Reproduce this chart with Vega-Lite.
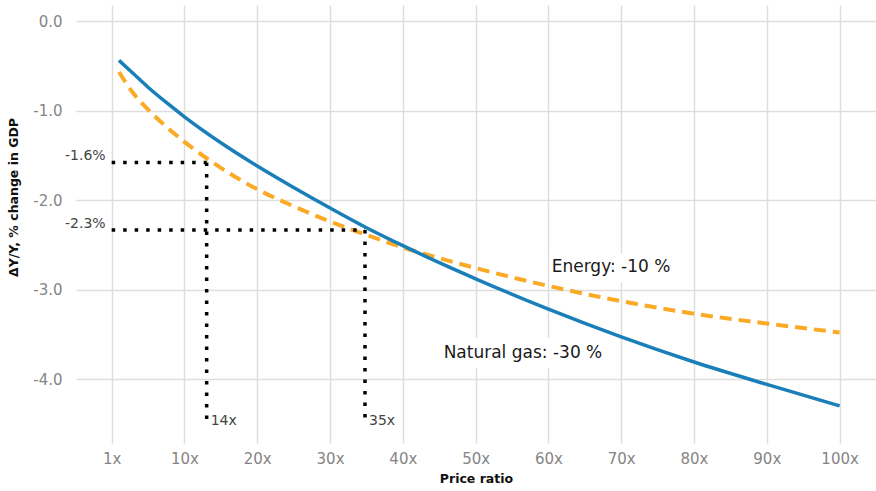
{
  "$schema": "https://vega.github.io/schema/vega-lite/v6.json",
  "width": 800,
  "height": 438,
  "autosize": "none",
  "padding": {"left": 76, "top": 5, "right": 0, "bottom": 48},
  "background": "white",
  "config": {
    "font": "DejaVu Sans",
    "view": {"stroke": null},
    "axis": {"domain": false, "ticks": false, "gridColor": "#dddddd", "gridWidth": 1.5, "labelColor": "#858585", "labelFontSize": 15, "labelFont": "DejaVu Sans", "titleFont": "DejaVu Sans", "titleColor": "#111111", "titleFontSize": 12.5, "titleFontWeight": "bold"}
  },
  "datasets": {
    "curves": [
      {"series": "Natural gas", "x": 1, "y": -0.44},
      {"series": "Natural gas", "x": 3, "y": -0.59},
      {"series": "Natural gas", "x": 5, "y": -0.74},
      {"series": "Natural gas", "x": 7.5, "y": -0.91},
      {"series": "Natural gas", "x": 10, "y": -1.07},
      {"series": "Natural gas", "x": 15, "y": -1.36},
      {"series": "Natural gas", "x": 20, "y": -1.62},
      {"series": "Natural gas", "x": 25, "y": -1.86},
      {"series": "Natural gas", "x": 30, "y": -2.09},
      {"series": "Natural gas", "x": 35, "y": -2.31},
      {"series": "Natural gas", "x": 40, "y": -2.51},
      {"series": "Natural gas", "x": 45, "y": -2.70},
      {"series": "Natural gas", "x": 50, "y": -2.88},
      {"series": "Natural gas", "x": 60, "y": -3.22},
      {"series": "Natural gas", "x": 70, "y": -3.53},
      {"series": "Natural gas", "x": 80, "y": -3.81},
      {"series": "Natural gas", "x": 90, "y": -4.06},
      {"series": "Natural gas", "x": 100, "y": -4.30},
      {"series": "Energy", "x": 1, "y": -0.57},
      {"series": "Energy", "x": 3, "y": -0.81},
      {"series": "Energy", "x": 5, "y": -0.99},
      {"series": "Energy", "x": 7.5, "y": -1.18},
      {"series": "Energy", "x": 10, "y": -1.35},
      {"series": "Energy", "x": 15, "y": -1.64},
      {"series": "Energy", "x": 20, "y": -1.88},
      {"series": "Energy", "x": 25, "y": -2.07},
      {"series": "Energy", "x": 30, "y": -2.24},
      {"series": "Energy", "x": 35, "y": -2.39},
      {"series": "Energy", "x": 40, "y": -2.53},
      {"series": "Energy", "x": 45, "y": -2.65},
      {"series": "Energy", "x": 50, "y": -2.76},
      {"series": "Energy", "x": 60, "y": -2.96},
      {"series": "Energy", "x": 70, "y": -3.13},
      {"series": "Energy", "x": 80, "y": -3.27},
      {"series": "Energy", "x": 90, "y": -3.38},
      {"series": "Energy", "x": 100, "y": -3.48}
    ],
    "guides": [
      {"x": 0, "y": -1.58, "x2": 13.05, "y2": -1.58},
      {"x": 13.05, "y": -1.58, "x2": 13.05, "y2": -4.5},
      {"x": 0, "y": -2.335, "x2": 34.8, "y2": -2.335},
      {"x": 34.8, "y": -2.335, "x2": 34.8, "y2": -4.5}
    ],
    "ylabels": [
      {"x": 0, "y": -1.58, "label": "-1.6%"},
      {"x": 0, "y": -2.335, "label": "-2.3%"}
    ],
    "xlabels": [
      {"x": 13.05, "y": -4.48, "label": "14x"},
      {"x": 34.8, "y": -4.48, "label": "35x"}
    ],
    "series_labels": [
      {"x": 68.6, "y": -2.75, "label": "Energy: -10 %", "x1": 60.2, "x2": 77.6, "y1": -2.6, "y2": -2.92},
      {"x": 56.5, "y": -3.71, "label": "Natural gas: -30 %", "x1": 44.0, "x2": 69.2, "y1": -3.54, "y2": -3.88}
    ]
  },
  "layer": [
    {
      "data": {"name": "series_labels"},
      "mark": {"type": "rect", "color": "white"},
      "encoding": {
        "x": {"field": "x1", "type": "quantitative", "scale": {"domain": [-4.9, 105], "nice": false, "zero": false},
          "axis": {"values": [0, 10, 20, 30, 40, 50, 60, 70, 80, 90, 100], "labelExpr": "datum.value == 0 ? '1x' : datum.value + 'x'", "title": "Price ratio", "labelPadding": 8, "titlePadding": 6}},
        "x2": {"field": "x2"},
        "y": {"field": "y1", "type": "quantitative", "scale": {"domain": [-4.715, 0.179], "nice": false, "zero": false},
          "axis": {"values": [0, -1, -2, -3, -4], "labelExpr": "replace(format(datum.value, '.1f'), '\u2212', '-')", "title": "ΔY/Y, % change in GDP", "labelPadding": 14, "titlePadding": 12, "titleY": 192}},
        "y2": {"field": "y2"}
      }
    },
    {
      "data": {"name": "curves"},
      "transform": [{"filter": "datum.series === 'Energy'"}],
      "mark": {"type": "line", "color": "#fbaa26", "strokeWidth": 4, "strokeDash": [12, 7], "interpolate": "monotone"},
      "encoding": {
        "x": {"field": "x", "type": "quantitative"},
        "y": {"field": "y", "type": "quantitative"}
      }
    },
    {
      "data": {"name": "curves"},
      "transform": [{"filter": "datum.series === 'Natural gas'"}],
      "mark": {"type": "line", "color": "#1a7fb9", "strokeWidth": 3.5, "interpolate": "monotone"},
      "encoding": {
        "x": {"field": "x", "type": "quantitative"},
        "y": {"field": "y", "type": "quantitative"}
      }
    },
    {
      "data": {"name": "guides"},
      "mark": {"type": "rule", "color": "#000000", "strokeWidth": 3.5, "strokeDash": [3.5, 8], "strokeCap": "butt"},
      "encoding": {
        "x": {"field": "x", "type": "quantitative"},
        "y": {"field": "y", "type": "quantitative"},
        "x2": {"field": "x2"},
        "y2": {"field": "y2"}
      }
    },
    {
      "data": {"name": "ylabels"},
      "mark": {"type": "text", "align": "right", "baseline": "middle", "dx": -6, "dy": -6, "fontSize": 14, "color": "#444444"},
      "encoding": {
        "x": {"field": "x", "type": "quantitative"},
        "y": {"field": "y", "type": "quantitative"},
        "text": {"field": "label"}
      }
    },
    {
      "data": {"name": "xlabels"},
      "mark": {"type": "text", "align": "left", "baseline": "middle", "dx": 4, "dy": -1, "fontSize": 14, "color": "#444444"},
      "encoding": {
        "x": {"field": "x", "type": "quantitative"},
        "y": {"field": "y", "type": "quantitative"},
        "text": {"field": "label"}
      }
    },
    {
      "data": {"name": "series_labels"},
      "mark": {"type": "text", "align": "center", "baseline": "middle", "fontSize": 17, "color": "#1a1a1a"},
      "encoding": {
        "x": {"field": "x", "type": "quantitative"},
        "y": {"field": "y", "type": "quantitative"},
        "text": {"field": "label"}
      }
    }
  ]
}
